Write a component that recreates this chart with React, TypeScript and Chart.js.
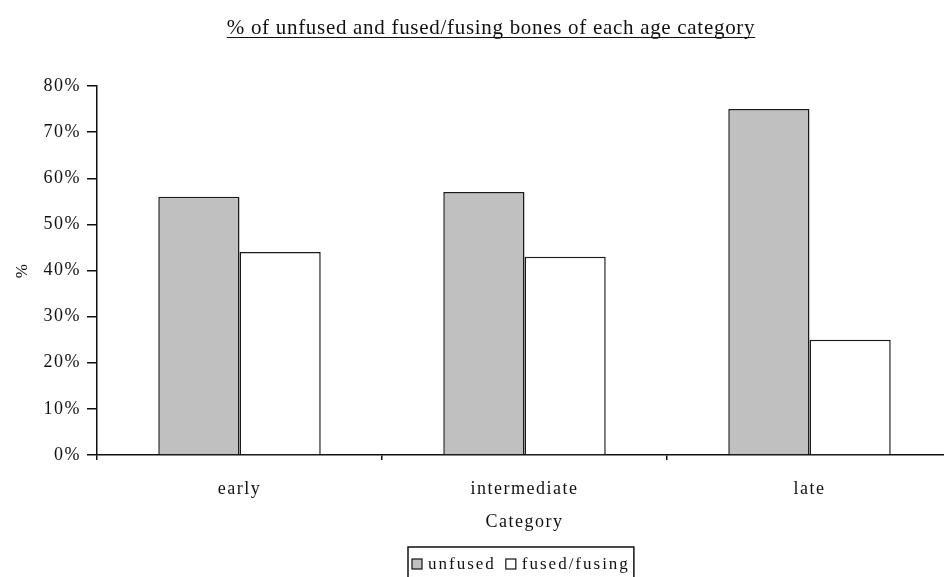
import React, { useEffect, useRef } from 'react';
import { Chart, registerables } from 'chart.js';

Chart.register(...registerables);

const categories = ['early', 'intermediate', 'late'];
const unfusedValues = [56, 57, 75];
const fusedValues = [44, 43, 25];
const seriesLabels = ['unfused', 'fused/fusing'];
const seriesColors = ['#c0c0c0', '#ffffff'];
const chartTitle = '% of unfused and fused/fusing bones of each age category';
const xTitle = 'Category';
const yTitle = '%';

const SERIF = '"Liberation Serif", "Times New Roman", serif';

const titlePlugin = {
  id: 'underlinedTitle',
  afterDraw(chart: any) {
    const ctx = chart.ctx;
    ctx.save();
    (ctx as any).letterSpacing = '0.7px';
    ctx.font = `21px ${SERIF}`;
    ctx.fillStyle = '#111';
    ctx.textAlign = 'center';
    ctx.textBaseline = 'alphabetic';
    const cx = 491;
    const by = 34;
    ctx.fillText(chartTitle, cx, by);
    const w = ctx.measureText(chartTitle).width;
    ctx.strokeStyle = '#111';
    ctx.lineWidth = 1;
    ctx.beginPath();
    ctx.moveTo(cx - w / 2, by + 3.5);
    ctx.lineTo(cx + w / 2, by + 3.5);
    ctx.stroke();
    ctx.restore();
  },
};

const legendPlugin = {
  id: 'boxLegend',
  afterDraw(chart: any) {
    const ctx = chart.ctx;
    ctx.save();
    (ctx as any).letterSpacing = '2px';
    ctx.font = `17px ${SERIF}`;
    ctx.textBaseline = 'middle';
    ctx.textAlign = 'left';
    const left = 408;
    const top = 547;
    const cy = 564;
    let x = left + 4;
    chart.data.datasets.forEach((ds: any) => {
      ctx.fillStyle = ds.backgroundColor;
      ctx.fillRect(x, cy - 5, 10, 10);
      ctx.strokeStyle = '#111';
      ctx.lineWidth = 1.2;
      ctx.strokeRect(x, cy - 5, 10, 10);
      x += 16;
      ctx.fillStyle = '#111';
      ctx.fillText(ds.label, x, cy + 1);
      x += ctx.measureText(ds.label).width + 10;
    });
    ctx.strokeStyle = '#111';
    ctx.lineWidth = 1.5;
    ctx.strokeRect(left, top, x - left - 6, 40);
    ctx.restore();
  },
};

const spacingPlugin = {
  id: 'spacing',
  beforeDraw(chart: any) {
    (chart.ctx as any).letterSpacing = '1.5px';
  },
};

export default function App() {
  const ref = useRef<HTMLCanvasElement | null>(null);
  useEffect(() => {
    if (!ref.current) return;
    const chart = new Chart(ref.current, {
      type: 'bar',
      data: {
        labels: categories,
        datasets: [
          {
            label: seriesLabels[0],
            data: unfusedValues,
            backgroundColor: seriesColors[0],
            borderColor: '#1a1a1a',
            borderWidth: 1.5,
            categoryPercentage: 0.57,
            barPercentage: 1,
          },
          {
            label: seriesLabels[1],
            data: fusedValues,
            backgroundColor: seriesColors[1],
            borderColor: '#1a1a1a',
            borderWidth: 1.5,
            categoryPercentage: 0.57,
            barPercentage: 1,
          },
        ],
      },
      options: {
        responsive: false,
        animation: false,
        layout: { padding: { top: 86, left: 0, right: 0, bottom: 0 } },
        plugins: {
          legend: { display: false },
          title: { display: false },
          tooltip: { enabled: false },
        },
        scales: {
          x: {
            afterFit: (scale: any) => {
              scale.height = 122;
            },
            grid: {
              display: true,
              drawOnChartArea: false,
              drawTicks: true,
              tickLength: 5,
              color: '#111',
              lineWidth: 1.5,
              offset: true,
            },
            border: { display: true, color: '#111', width: 1.5 },
            ticks: {
              color: '#111',
              padding: 18,
              font: { family: SERIF, size: 18, lineHeight: 1.2 },
              maxRotation: 0,
            },
            title: {
              display: true,
              text: xTitle,
              color: '#111',
              font: { family: SERIF, size: 18, lineHeight: 1.2 },
              padding: { top: 0, bottom: 44 },
            },
          },
          y: {
            min: 0,
            max: 80,
            afterFit: (scale: any) => {
              scale.width = 97;
            },
            grid: {
              display: true,
              drawOnChartArea: false,
              drawTicks: true,
              tickLength: 10,
              color: '#111',
              lineWidth: 1.5,
            },
            border: { display: true, color: '#111', width: 1.5 },
            ticks: {
              stepSize: 10,
              color: '#111',
              padding: 6,
              font: { family: SERIF, size: 18, lineHeight: 1.2 },
              callback: (v: any) => `${v}%`,
            },
            title: {
              display: true,
              text: yTitle,
              color: '#111',
              font: { family: SERIF, size: 17, lineHeight: 1.2 },
              padding: { top: 12, bottom: 0 },
            },
          },
        },
      },
      plugins: [spacingPlugin, titlePlugin, legendPlugin],
    });
    return () => chart.destroy();
  }, []);

  return (
    <div style={{ position: 'fixed', left: 0, top: 0, width: 944, height: 577, overflow: 'hidden', background: '#fff' }}>
      <canvas ref={ref} width={952} height={577} style={{ display: 'block' }} />
    </div>
  );
}
